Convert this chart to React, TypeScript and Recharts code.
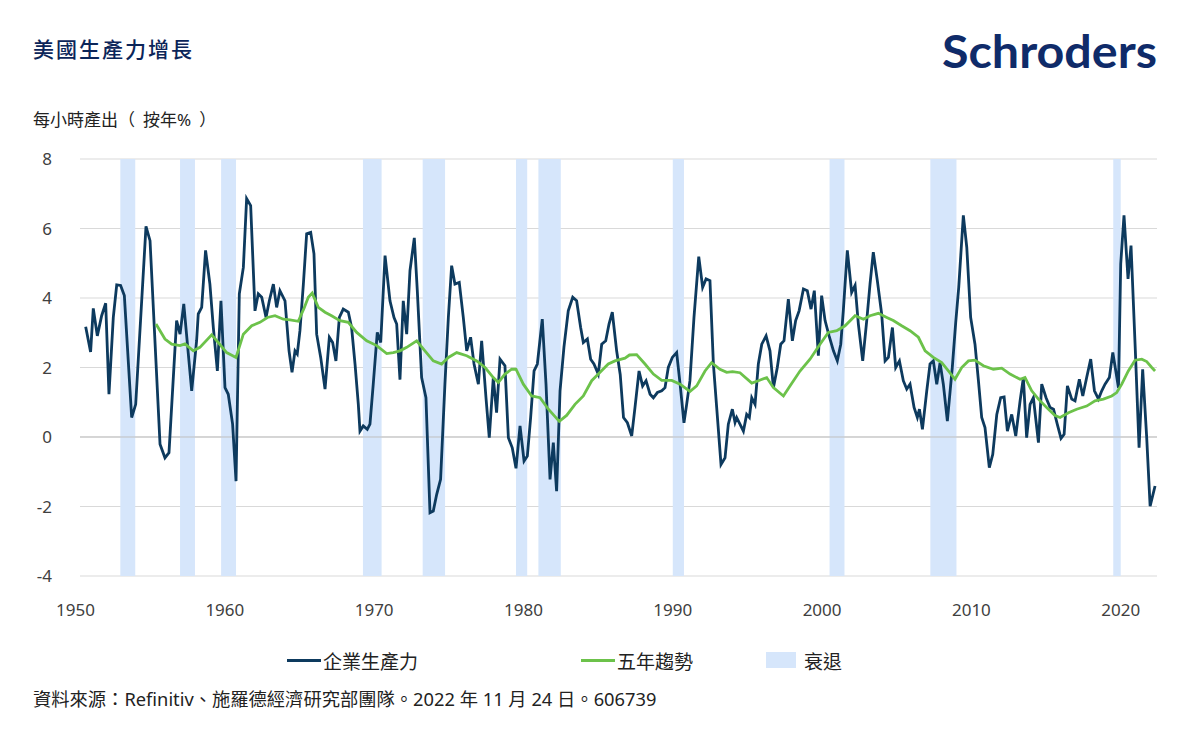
import { LineChart, Line, XAxis, YAxis, CartesianGrid, ReferenceArea, ReferenceLine } from 'recharts';

// x-axis labels and y ticks
const yearLabels = [1950, 1960, 1970, 1980, 1990, 2000, 2010, 2020];
const valueTicks = [-4, -2, 0, 2, 4, 6, 8];

// recessions (decimal years)
const recessionStart = [1953.5, 1957.5, 1960.25, 1969.75, 1973.75, 1980.0, 1981.5, 1990.5, 2001.0, 2007.75, 2020.0];
const recessionEnd = [1954.5, 1958.5, 1961.25, 1971.0, 1975.25, 1980.75, 1983.0, 1991.25, 2002.0, 2009.5, 2020.5];

// business sector output per hour, yoy %
const prodTime = [
    1951.18, 1951.51, 1951.69, 1951.96, 1952.25, 1952.52, 1952.74, 1953.03, 1953.26, 1953.52, 1953.77, 1954.26, 1954.53,
    1955.22, 1955.49, 1956.16, 1956.49, 1956.76, 1957.27, 1957.5, 1957.75, 1958.28, 1958.61, 1958.72, 1958.95, 1959.21,
    1959.5, 1959.73, 1960.0, 1960.24, 1960.51, 1960.73, 1961.02, 1961.25, 1961.47, 1961.74, 1961.96, 1962.23, 1962.52,
    1962.74, 1962.97, 1963.26, 1963.48, 1963.75, 1963.97, 1964.19, 1964.53, 1964.8, 1965.0, 1965.2, 1965.35, 1965.53,
    1965.76, 1965.98, 1966.25, 1966.47, 1966.65, 1966.92, 1967.21, 1967.5, 1967.72, 1967.94, 1968.17, 1968.43, 1968.77,
    1968.99, 1969.22, 1969.44, 1969.55, 1969.77, 1970.04, 1970.22, 1970.44, 1970.71, 1970.94, 1971.23, 1971.56, 1971.83,
    1972.01, 1972.23, 1972.45, 1972.68, 1972.9, 1973.19, 1973.39, 1973.68, 1973.97, 1974.24, 1974.46, 1974.69, 1974.95,
    1975.24, 1975.47, 1975.69, 1975.91, 1976.2, 1976.47, 1976.7, 1976.96, 1977.19, 1977.48, 1977.7, 1977.99, 1978.21,
    1978.48, 1978.7, 1978.93, 1979.26, 1979.49, 1979.75, 1980.0, 1980.27, 1980.54, 1980.76, 1980.98, 1981.21, 1981.43,
    1981.76, 1982.01, 1982.28, 1982.5, 1982.72, 1982.95, 1983.21, 1983.5, 1983.8, 1984.06, 1984.33, 1984.51, 1984.78,
    1985.0, 1985.22, 1985.51, 1985.74, 1986.01, 1986.23, 1986.45, 1986.74, 1986.98, 1987.2, 1987.46, 1987.75, 1987.97,
    1988.24, 1988.48, 1988.71, 1988.98, 1989.2, 1989.47, 1989.76, 1989.98, 1990.2, 1990.47, 1990.76, 1990.99, 1991.25,
    1991.43, 1991.65, 1991.92, 1992.24, 1992.5, 1992.73, 1992.99, 1993.22, 1993.44, 1993.73, 1994.0, 1994.22, 1994.49,
    1994.67, 1994.78, 1995.0, 1995.23, 1995.45, 1995.63, 1995.79, 1996.01, 1996.23, 1996.46, 1996.75, 1997.01, 1997.24,
    1997.5, 1997.73, 1997.95, 1998.24, 1998.51, 1998.73, 1998.96, 1999.25, 1999.51, 1999.76, 1999.98, 2000.25, 2000.47,
    2000.7, 2000.97, 2001.26, 2001.52, 2001.75, 2001.92, 2002.19, 2002.48, 2002.71, 2002.93, 2003.22, 2003.49, 2003.71,
    2003.93, 2004.2, 2004.49, 2004.72, 2004.94, 2005.21, 2005.43, 2005.68, 2005.94, 2006.17, 2006.39, 2006.66, 2006.88,
    2007.02, 2007.22, 2007.51, 2007.73, 2007.95, 2008.18, 2008.4, 2008.62, 2008.89, 2009.22, 2009.45, 2009.65, 2009.96,
    2010.19, 2010.45, 2010.74, 2010.97, 2011.19, 2011.41, 2011.7, 2011.93, 2012.2, 2012.46, 2012.69, 2012.91, 2013.2,
    2013.47, 2013.76, 2013.98, 2014.2, 2014.43, 2014.65, 2014.99, 2015.21, 2015.5, 2015.77, 2016.0, 2016.25, 2016.5,
    2016.71, 2016.93, 2017.22, 2017.44, 2017.73, 2017.96, 2018.22, 2018.49, 2018.74, 2019.01, 2019.23, 2019.45, 2019.74,
    2019.97, 2020.17, 2020.35, 2020.5, 2020.72, 2020.99, 2021.19, 2021.48, 2021.73, 2021.97, 2022.24, 2022.47, 2022.8,
];
const prodValue = [
    3.17, 2.45, 3.7, 2.91, 3.49, 3.85, 1.23, 3.44, 4.38, 4.36, 4.07, 0.56, 0.94,
    6.06, 5.65, -0.21, -0.6, -0.45, 3.35, 2.96, 3.83, 1.33, 2.77, 3.54, 3.73, 5.37,
    4.4, 3.15, 1.9, 3.92, 1.42, 1.23, 0.37, -1.27, 4.12, 4.88, 6.86, 6.66, 3.63,
    4.12, 4.02, 3.44, 3.92, 4.4, 3.73, 4.21, 3.92, 2.48, 1.86, 2.48, 2.39, 3.06,
    4.4, 5.85, 5.89, 5.27, 2.96, 2.29, 1.38, 2.87, 2.72, 2.19, 3.44, 3.68, 3.59,
    3.15, 2.1, 0.94, 0.17, 0.32, 0.22, 0.37, 1.52, 3.01, 2.72, 5.22, 3.92, 3.44,
    3.25, 1.65, 3.92, 2.96, 4.79, 5.73, 4.21, 1.71, 1.13, -2.18, -2.13, -1.65, -1.22,
    1.52, 3.44, 4.93, 4.4, 4.45, 3.44, 2.48, 2.87, 2.1, 1.52, 2.77, 1.13, -0.02,
    1.71, 0.7, 2.24, 2.05, -0.02, -0.31, -0.9, 0.32, -0.69, -0.55, 0.56, 1.9, 2.1,
    3.39, 1.52, -1.22, -0.16, -1.56, 1.33, 2.58, 3.63, 4.02, 3.92, 3.15, 2.72, 2.82,
    2.24, 2.1, 1.81, 2.67, 2.77, 3.25, 3.59, 2.48, 1.8, 0.56, 0.41, 0.03, 0.85,
    1.9, 1.47, 1.62, 1.23, 1.13, 1.28, 1.33, 1.42, 2.0, 2.29, 2.43, 1.52, 0.41,
    0.94, 1.62, 3.44, 5.19, 4.31, 4.55, 4.5, 2.1, 0.85, -0.79, -0.6, 0.37, 0.8,
    0.42, 0.56, 0.37, 0.17, 0.65, 0.56, 1.13, 0.94, 2.1, 2.67, 2.91, 2.48, 1.42,
    2.0, 2.67, 2.77, 3.97, 2.77, 3.35, 3.63, 4.26, 4.21, 3.68, 4.21, 2.34, 4.07,
    3.35, 2.91, 2.48, 2.19, 2.67, 3.63, 5.37, 4.16, 4.36, 3.25, 2.19, 3.35, 4.4,
    5.32, 4.5, 3.54, 2.19, 2.29, 3.15, 2.0, 2.19, 1.62, 1.38, 1.52, 0.85, 0.56,
    0.8, 0.22, 1.33, 2.1, 2.19, 1.52, 2.14, 1.52, 0.46, 2.0, 3.3, 4.3, 6.38,
    5.46, 3.44, 2.67, 1.62, 0.56, 0.27, -0.88, -0.5, 0.65, 1.13, 1.15, 0.17, 0.65,
    0.03, 1.04, 1.71, -0.02, 0.94, 1.13, -0.16, 1.52, 1.13, 0.85, 0.8, 0.37, -0.04,
    0.08, 1.47, 1.09, 1.04, 1.66, 1.18, 1.71, 2.24, 1.33, 1.09, 1.33, 1.52, 1.71,
    2.43, 1.9, 1.42, 4.98, 6.38, 4.55, 5.51, 2.48, -0.31, 1.95, -0.02, -1.99, -1.41,
];

// five-year trend
const trendTime = [
    1955.89, 1956.49, 1956.94, 1957.5, 1957.83, 1958.39, 1958.83, 1959.62, 1960.06, 1960.62, 1961.25, 1961.74, 1962.3,
    1962.85, 1963.35, 1963.86, 1964.42, 1964.86, 1965.42, 1965.8, 1966.09, 1966.35, 1966.76, 1967.21, 1967.65, 1968.21,
    1968.77, 1969.33, 1970.0, 1970.67, 1971.34, 1971.78, 1972.23, 1972.68, 1973.35, 1973.9, 1974.46, 1975.02, 1975.47,
    1976.03, 1976.7, 1977.37, 1977.93, 1978.48, 1978.82, 1979.26, 1979.71, 1980.0, 1980.49, 1981.05, 1981.61, 1982.17,
    1982.9, 1983.39, 1983.95, 1984.51, 1985.07, 1985.63, 1986.18, 1986.63, 1987.3, 1987.6, 1988.08, 1988.64, 1989.2,
    1989.76, 1990.43, 1990.99, 1991.65, 1992.1, 1992.66, 1993.1, 1993.66, 1994.11, 1994.5, 1995.0, 1995.79, 1996.23,
    1996.79, 1997.24, 1997.91, 1998.35, 1999.02, 1999.69, 2000.36, 2000.92, 2001.48, 2002.04, 2002.71, 2003.27, 2003.71,
    2004.27, 2004.83, 2005.27, 2005.83, 2006.39, 2006.95, 2007.4, 2007.95, 2008.51, 2008.96, 2009.4, 2009.85, 2010.3,
    2010.74, 2011.3, 2011.97, 2012.53, 2013.09, 2013.76, 2014.09, 2014.54, 2014.99, 2015.54, 2016.1, 2016.44, 2017.0,
    2017.55, 2018.22, 2018.78, 2019.34, 2019.9, 2020.23, 2020.57, 2021.01, 2021.46, 2021.91, 2022.24, 2022.58, 2022.8,
];
const trendValue = [
    3.25, 2.82, 2.67, 2.63, 2.68, 2.48, 2.58, 2.94, 2.72, 2.43, 2.29, 2.96, 3.2,
    3.3, 3.44, 3.49, 3.39, 3.37, 3.33, 3.7, 4.02, 4.14, 3.73, 3.59, 3.49, 3.35,
    3.3, 3.01, 2.77, 2.63, 2.4, 2.43, 2.48, 2.58, 2.77, 2.48, 2.19, 2.1, 2.29,
    2.43, 2.34, 2.19, 2.0, 1.71, 1.57, 1.81, 1.95, 1.95, 1.52, 1.18, 1.13, 0.8,
    0.45, 0.62, 0.94, 1.18, 1.62, 1.86, 2.1, 2.19, 2.27, 2.36, 2.37, 2.1, 1.81,
    1.63, 1.63, 1.52, 1.31, 1.47, 1.9, 2.14, 1.95, 1.86, 1.88, 1.85, 1.55, 1.62,
    1.71, 1.42, 1.18, 1.47, 1.9, 2.24, 2.67, 3.01, 3.06, 3.2, 3.49, 3.39, 3.49,
    3.56, 3.44, 3.35, 3.2, 3.06, 2.87, 2.48, 2.29, 2.14, 1.9, 1.66, 2.0, 2.19,
    2.21, 2.05, 1.95, 1.98, 1.81, 1.66, 1.71, 1.33, 1.09, 0.85, 0.62, 0.56, 0.7,
    0.8, 0.89, 1.04, 1.09, 1.18, 1.28, 1.52, 1.9, 2.21, 2.24, 2.17, 2.0, 1.9,
];

const productivity = prodTime.map((t, i) => ({ t, v: prodValue[i] }));
const trend = trendTime.map((t, i) => ({ t, v: trendValue[i] }));

const FONT = "'Noto Sans', 'Noto Sans CJK TC', sans-serif";
const NAVY = '#0d3a5e';
const GREEN = '#6cc24a';
const BAND = '#d6e6fb';

export default function App() {
    return (
        <div style={{ position: 'absolute', left: 0, top: 0, width: 1200, height: 744, background: '#fff', fontFamily: FONT, color: '#222' }}>
            <div style={{ position: 'absolute', left: 33, top: 33, fontSize: 21, fontWeight: 500, letterSpacing: 2, color: '#0b2559' }}>美國生產力增長</div>
            <svg style={{ position: 'absolute', left: 0, top: 0 }} width={1200} height={90}>
                <text x={942} y={68} fontSize={46} fontWeight={700} fill="#0f2b69" fontFamily="Lato, 'Noto Sans', sans-serif"
                    textLength={215} lengthAdjust="spacingAndGlyphs">Schroders</text>
            </svg>
            <div style={{ position: 'absolute', left: 33, top: 106, fontSize: 17 }}>
                每小時產出<span style={{ marginRight: 8 }}>（</span>按年%<span style={{ marginLeft: 8 }}>）</span>
            </div>

            <div style={{ position: 'absolute', left: 0, top: 0 }}>
                <LineChart width={1200} height={744} margin={{ top: 159, right: 43, bottom: 108, left: 0 }}>
                    <CartesianGrid vertical={false} stroke="#d9d9d9" />
                    <XAxis
                        dataKey="t"
                        type="number"
                        domain={[1950.8, 2022.93]}
                        ticks={yearLabels.map((y) => y + 0.5)}
                        tickFormatter={(t) => `${Math.floor(t)}`}
                        interval={0}
                        allowDataOverflow
                        axisLine={false}
                        tickLine={false}
                        tickSize={0}
                        tickMargin={28}
                        height={60}
                        tick={{ fill: '#404040', fontSize: 17, fontFamily: FONT }}
                    />
                    <YAxis
                        type="number"
                        domain={[-4, 8]}
                        ticks={valueTicks}
                        interval={0}
                        axisLine={false}
                        tickLine={false}
                        tickSize={0}
                        tickMargin={28}
                        width={80}
                        tick={{ fill: '#404040', fontSize: 17, fontFamily: FONT }}
                    />
                    <ReferenceLine y={0} stroke="#bfbfbf" />
                    {recessionStart.map((s, i) => (
                        <ReferenceArea key={s} x1={s} x2={recessionEnd[i]} fill={BAND} fillOpacity={1} stroke="none" />
                    ))}
                    <Line data={productivity} dataKey="v" type="linear" stroke={NAVY} strokeWidth={2.8} dot={false} isAnimationActive={false} />
                    <Line data={trend} dataKey="v" type="linear" stroke={GREEN} strokeWidth={2.8} dot={false} isAnimationActive={false} />
                </LineChart>
            </div>

            <div style={{ position: 'absolute', top: 647, left: 0, width: 1200, height: 26, fontSize: 19 }}>
                <div style={{ position: 'absolute', left: 287, top: 12, width: 34, height: 3, background: NAVY }} />
                <div style={{ position: 'absolute', left: 323, top: 0 }}>企業生產力</div>
                <div style={{ position: 'absolute', left: 581, top: 12, width: 34, height: 3, background: GREEN }} />
                <div style={{ position: 'absolute', left: 617, top: 0 }}>五年趨勢</div>
                <div style={{ position: 'absolute', left: 766, top: 5, width: 30, height: 16, background: BAND }} />
                <div style={{ position: 'absolute', left: 804, top: 0 }}>衰退</div>
            </div>

            <div style={{ position: 'absolute', left: 33, top: 685, fontSize: 18.3 }}>
                資料來源：Refinitiv、施羅德經濟研究部團隊。2022 年 11 月 24 日。606739
            </div>
        </div>
    );
}
